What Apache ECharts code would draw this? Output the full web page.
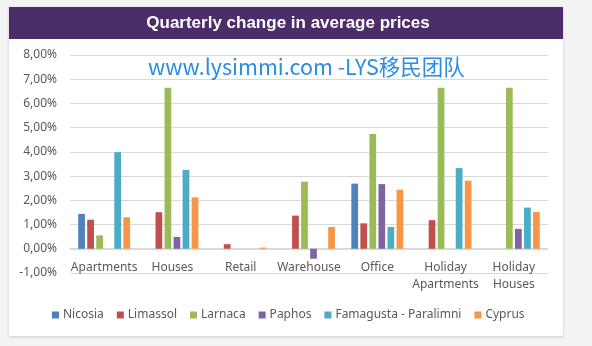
<!DOCTYPE html>
<html><head><meta charset="utf-8">
<script src="https://cdn.jsdelivr.net/npm/echarts@6/dist/echarts.min.js"></script>
<style>html,body{margin:0;padding:0;background:#f3f3f3;}#c{width:592px;height:346px;}</style>
</head><body><div id="c"></div>
<script>
var categories = ['Apartments','Houses','Retail','Warehouse','Office','Holiday\nApartments','Holiday\nHouses'];
var nicosia    = [1.44, null, null, null, 2.69, null, null];
var limassol   = [1.20, 1.51, 0.19, 1.37, 1.05, 1.18, null];
var larnaca    = [0.55, 6.65, null, 2.77, 4.74, 6.65, 6.65];
var paphos     = [null, 0.49, null, -0.41, 2.67, null, 0.82];
var famagusta  = [3.99, 3.26, null, null, 0.90, 3.33, 1.70];
var cyprus     = [1.30, 2.12, 0.05, 0.90, 2.44, 2.81, 1.52];
var seriesNames = ['Nicosia','Limassol','Larnaca','Paphos','Famagusta - Paralimni','Cyprus'];
var seriesData = [nicosia, limassol, larnaca, paphos, famagusta, cyprus];
var colors = ['#4F81BD','#C0504D','#9BBB59','#8064A2','#4BACC6','#F79646'];

var chart = echarts.init(document.getElementById('c'), null, {renderer:'canvas'});
var txt = '#595959';
var font = 'Noto Sans';
chart.setOption({
  backgroundColor: '#f3f3f3',
  animation: false,
  color: colors,
  graphic: [
    {type:'rect', z:-10, shape:{x:9,y:7,width:554,height:329}, style:{fill:'#ffffff', shadowBlur:3, shadowColor:'rgba(0,0,0,0.15)', shadowOffsetY:1}},
    {type:'rect', z:-9, shape:{x:9,y:7,width:554,height:32}, style:{fill:'#4B2D69'}},
    {type:'text', z:10, left:148, top:56, style:{text:'www.lysimmi.com -LYS移民团队', fill:'#2A8CE2', font:'21.5px "Noto Sans CJK SC"'}}
  ],
  title: {text:'Quarterly change in average prices', left:283, textAlign:'center', top:10,
    textStyle:{color:'#ffffff', fontSize:17, fontWeight:'bold', fontFamily:'Liberation Sans'}},
  legend: {data: seriesNames, top: 304, left: 47, icon:'rect', itemWidth:7, itemHeight:7, itemGap:13,
    textStyle:{color:txt, fontSize:12, fontFamily:font, padding:[0,0,0,-1]}},
  grid: {left:70, right:44, top:55, bottom:73, containLabel:false},
  xAxis: {type:'category', data: categories, offset:-24.3,
    axisLine:{show:true, onZero:false, lineStyle:{color:'#d9d9d9'}}, axisTick:{show:false},
    axisLabel:{color:txt, fontSize:12, fontFamily:font, margin:10, lineHeight:17, interval:0}},
  yAxis: {type:'value', min:-1, max:8, interval:1,
    axisLine:{show:false}, axisTick:{show:false},
    splitLine:{lineStyle:{color:'#d9d9d9'}},
    axisLabel:{color:txt, fontSize:12, fontFamily:font, margin:13,
      formatter:function(v){return v.toFixed(2).replace('.',',')+'%';}}},
  series: seriesNames.map(function(n,i){
    return {name:n, type:'bar', data: seriesData[i], barGap:'34%', barCategoryGap:'24%'};
  })
});
</script></body></html>
